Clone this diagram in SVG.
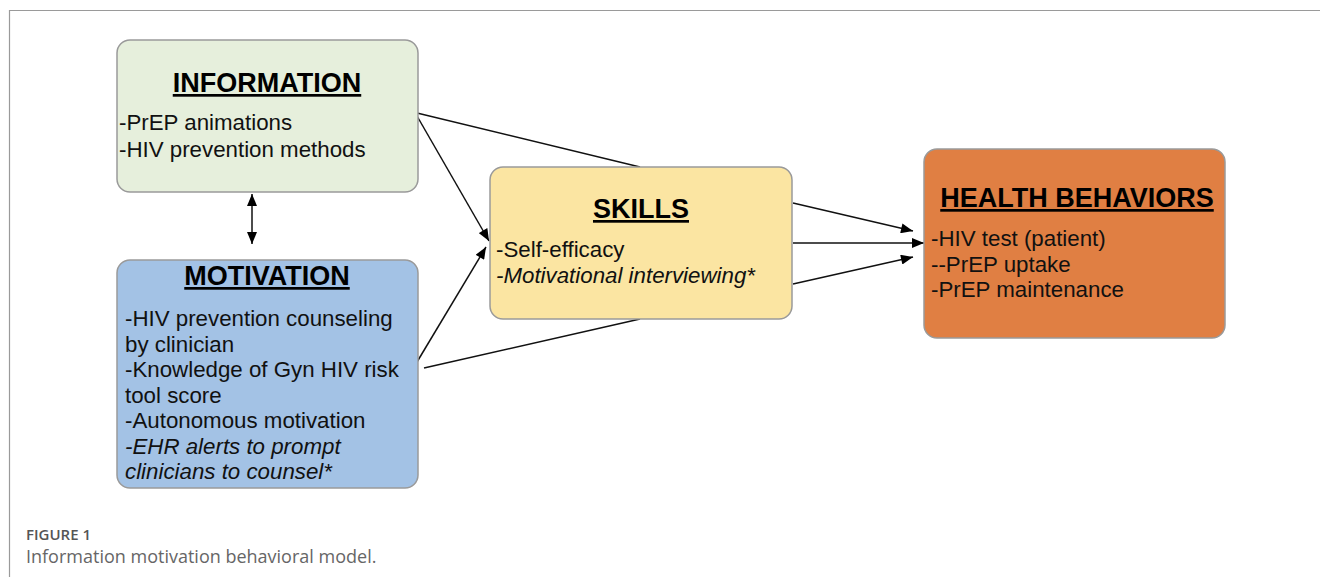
<svg xmlns="http://www.w3.org/2000/svg" width="1320" height="577" viewBox="0 0 1320 577">
<defs>
<marker id="ah" viewBox="0 0 12 10" refX="12" refY="5" markerWidth="13" markerHeight="10" markerUnits="userSpaceOnUse" orient="auto-start-reverse">
<path d="M0,0 L12,5 L0,10 Z" fill="#000"/>
</marker>
<style>
.box{stroke:#9a9a9a;stroke-width:1.5}
.title{font-family:"Liberation Sans",Arial,sans-serif;font-weight:bold;font-size:27px;text-decoration:underline;fill:#000}
.body{font-family:"Liberation Sans",Arial,sans-serif;font-size:22.3px;fill:#111}
.it{font-style:italic}
.conn line{stroke:#111;stroke-width:1.5;fill:none}
.frame{stroke:#9a9a9a;stroke-width:1.2;fill:none}
.cap1{font-family:"Open Sans","Noto Sans",sans-serif;font-weight:600;font-size:15px;fill:#555}
.cap2{font-family:"Open Sans","Noto Sans",sans-serif;font-size:18px;fill:#666}
</style>
</defs>
<rect width="1320" height="577" fill="#fff"/>
<path class="frame" d="M1320,10.5 H9.5 V577"/>
<g class="conn">
<line x1="417" y1="113" x2="640" y2="167"/>
<line x1="793" y1="203" x2="913" y2="231" marker-end="url(#ah)"/>
<line x1="417" y1="116" x2="489" y2="241" marker-end="url(#ah)"/>
<line x1="417" y1="362" x2="486" y2="247" marker-end="url(#ah)"/>
<line x1="424" y1="368" x2="640" y2="319"/>
<line x1="793" y1="284" x2="913" y2="257" marker-end="url(#ah)"/>
<line x1="793" y1="243" x2="924" y2="243" marker-end="url(#ah)"/>
<line x1="252" y1="194" x2="252" y2="244" marker-start="url(#ah)" marker-end="url(#ah)"/>
</g>
<g id="information">
<rect class="box" x="117" y="40" width="301" height="152" rx="13" fill="#e6efdc"/>
<text class="title" x="267" y="92" text-anchor="middle">INFORMATION</text>
<text class="body" x="119" y="130">-PrEP animations</text>
<text class="body" x="119" y="157">-HIV prevention methods</text>
</g>
<g id="motivation">
<rect class="box" x="117" y="260" width="301" height="228" rx="13" fill="#a3c2e5"/>
<text class="title" x="267" y="285" text-anchor="middle">MOTIVATION</text>
<text class="body" x="125" y="326">-HIV prevention counseling</text>
<text class="body" x="125" y="352">by clinician</text>
<text class="body" x="125" y="377">-Knowledge of Gyn HIV risk</text>
<text class="body" x="125" y="403">tool score</text>
<text class="body" x="125" y="428">-Autonomous motivation</text>
<text class="body it" x="125" y="454">-EHR alerts to prompt</text>
<text class="body it" x="125" y="479">clinicians to counsel*</text>
</g>
<g id="skills">
<rect class="box" x="490" y="167" width="302" height="152" rx="13" fill="#fbe5a2"/>
<text class="title" x="641" y="218" text-anchor="middle">SKILLS</text>
<text class="body" x="496" y="257">-Self-efficacy</text>
<text class="body it" x="496" y="283">-Motivational interviewing*</text>
</g>
<g id="health-behaviors">
<rect class="box" x="924" y="149" width="301" height="189" rx="13" fill="#e07f43"/>
<text class="title" x="1077" y="207" text-anchor="middle">HEALTH BEHAVIORS</text>
<text class="body" x="931" y="246">-HIV test (patient)</text>
<text class="body" x="931" y="272">--PrEP uptake</text>
<text class="body" x="931" y="297">-PrEP maintenance</text>
</g>
<text class="cap1" x="26" y="540">FIGURE 1</text>
<text class="cap2" x="26" y="563">Information motivation behavioral model.</text>
</svg>
